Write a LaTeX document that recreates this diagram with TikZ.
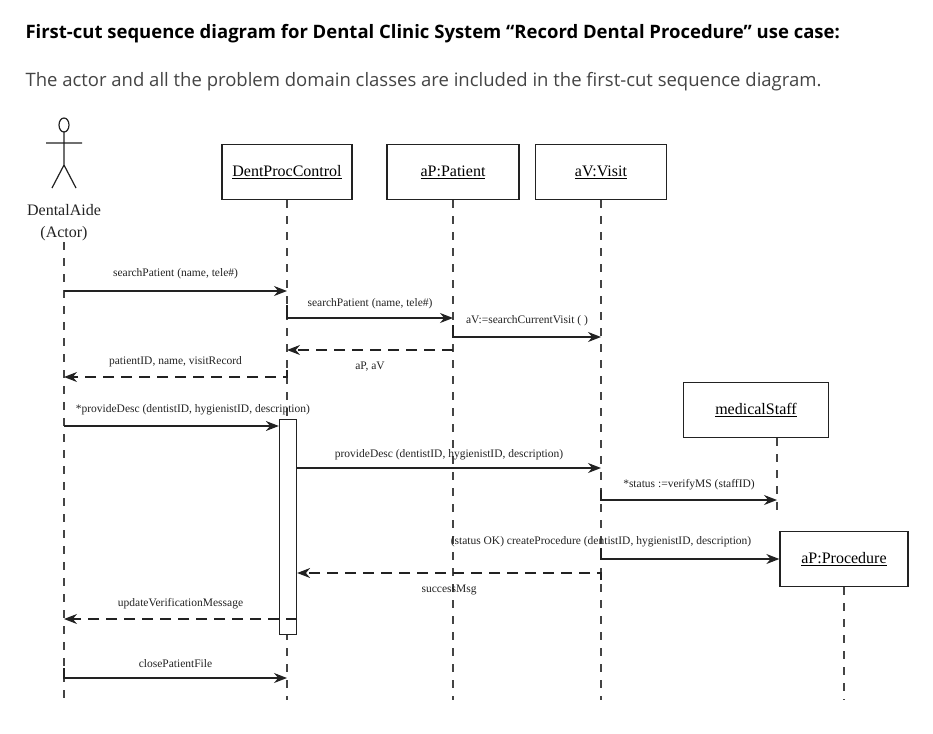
\documentclass[tikz,border=0pt]{standalone}
\usepackage{fontspec}
\setmainfont{Liberation Serif}
\newfontfamily\titlefont{Open Sans}
\usetikzlibrary{arrows.meta,positioning}
\definecolor{seqDark}{HTML}{222222}
\definecolor{seqGray}{HTML}{444444}
\tikzset{
    object/.style={
        draw=seqDark,
        line width=1.3pt,
        rectangle,
        minimum height=55pt,
        align=center,
        font=\fontsize{16}{18}\selectfont
    },
    lifeline/.style={
        dash pattern=on 8pt off 8pt,
        line width=1.2pt,
        color=seqGray
    },
    call/.style={
        -{Stealth[length=13pt,width=10pt]},
        line width=1.2pt,
        color=seqDark
    },
    reply/.style={
        -{Stealth[length=13pt,width=10pt]},
        line width=1.2pt,
        dash pattern=on 11pt off 7pt,
        color=seqDark
    },
    msg/.style={
        font=\fontsize{11.5}{13}\selectfont,
        text=seqDark,
        inner sep=1pt
    }
}
\begin{document}
\begin{tikzpicture}[x=1pt,y=-1pt]
    \useasboundingbox (0,0) rectangle (933,733);
    % Heading
    \node[anchor=west, font=\titlefont\bfseries\fontsize{18.5}{21}\selectfont] (title) at (22,34)
        {First-cut sequence diagram for Dental Clinic System “Record Dental Procedure” use case:};
    \node[anchor=west, font=\titlefont\fontsize{18.5}{21}\selectfont, text=seqGray] (intro) at (22,82)
        {The actor and all the problem domain classes are included in the first-cut sequence diagram.};

    % Actor
    \draw[line width=1.2pt, seqDark] (64,125) ellipse (5pt and 7pt);
    \draw[line width=1.2pt, seqDark] (64,132) -- (64,165) (46,143) -- (82,143)
        (52,188) -- (64,165) -- (76,188);
    \node[msg, font=\fontsize{16}{22}\selectfont, align=center] (aide) at (64,223) {DentalAide\\(Actor)};

    % Objects
    \node[object, minimum width=130pt] (dpc) at (287,172) {\underline{DentProcControl}};
    \node[object, minimum width=132pt] (pat) at (453,172) {\underline{aP:Patient}};
    \node[object, minimum width=131pt] (vis) at (601,172) {\underline{aV:Visit}};
    \node[object, minimum width=145pt] (staff) at (756,410) {\underline{medicalStaff}};
    \node[object, minimum width=128pt] (proc) at (844,559) {\underline{aP:Procedure}};

    % Lifelines
    \coordinate (aideEnd) at (64,700);
    \coordinate (dpcEnd) at (287,700);
    \coordinate (patEnd) at (453,700);
    \coordinate (visEnd) at (601,700);
    \coordinate (staffEnd) at (777,510);
    \coordinate (procEnd) at (844,700);
    \draw[lifeline] (aide.south) -- (aideEnd);
    \draw[lifeline] (dpc.south) -- (dpcEnd);
    \draw[lifeline] (pat.south) -- (patEnd);
    \draw[lifeline] (vis.south) -- (visEnd);
    \draw[lifeline] (staff.south -| staffEnd) -- (staffEnd);
    \draw[lifeline] (proc.south) -- (procEnd);

    % Activation
    \node[draw=seqDark, line width=1.3pt, fill=white, minimum width=17pt, minimum height=215pt, inner sep=0pt] (act) at (288,527) {};

    % Messages
    \draw[call] (64,291) -- (287,291) node[msg, midway, above=10pt] {searchPatient (name, tele\#)};
    \draw[call] (287,305) |- (453,318) node[msg, pos=0.75, above=7pt] {searchPatient (name, tele\#)};
    \draw[call] (453,325) |- (601,337) node[msg, pos=0.75, above=9pt] {aV:=searchCurrentVisit ( )};
    \draw[reply] (453,350) -- (287,350) node[msg, midway, below=10pt] {aP, aV};
    \draw[reply] (287,370) |- (64,377) node[msg, pos=0.75, above=8pt] {patientID, name, visitRecord};
    \draw[call] (64,426) -- (act.west |- 0,426) node[msg, pos=0.6, above=9pt] {*provideDesc (dentistID, hygienistID, description)};
    \draw[call] (act.east |- 0,468) -- (601,468) node[msg, midway, above=6pt] {provideDesc (dentistID, hygienistID, description)};
    \draw[call] (601,490) |- (777,500) node[msg, pos=0.75, above=8pt] {*status :=verifyMS (staffID)};
    \draw[call] (601,548) |- (proc.west) node[msg, pos=0.5, above=10pt] {(status OK) createProcedure (dentistID, hygienistID, description)};
    \draw[reply] (601,580) |- (act.east |- 0,573) node[msg, pos=0.75, below=10pt] {successMsg};
    \draw[reply] (297,619) -- (64,619) node[msg, midway, above=8pt] {updateVerificationMessage};
    \draw[call] (64,668) |- (287,678) node[msg, pos=0.75, above=9pt] {closePatientFile};
\end{tikzpicture}
\end{document}
